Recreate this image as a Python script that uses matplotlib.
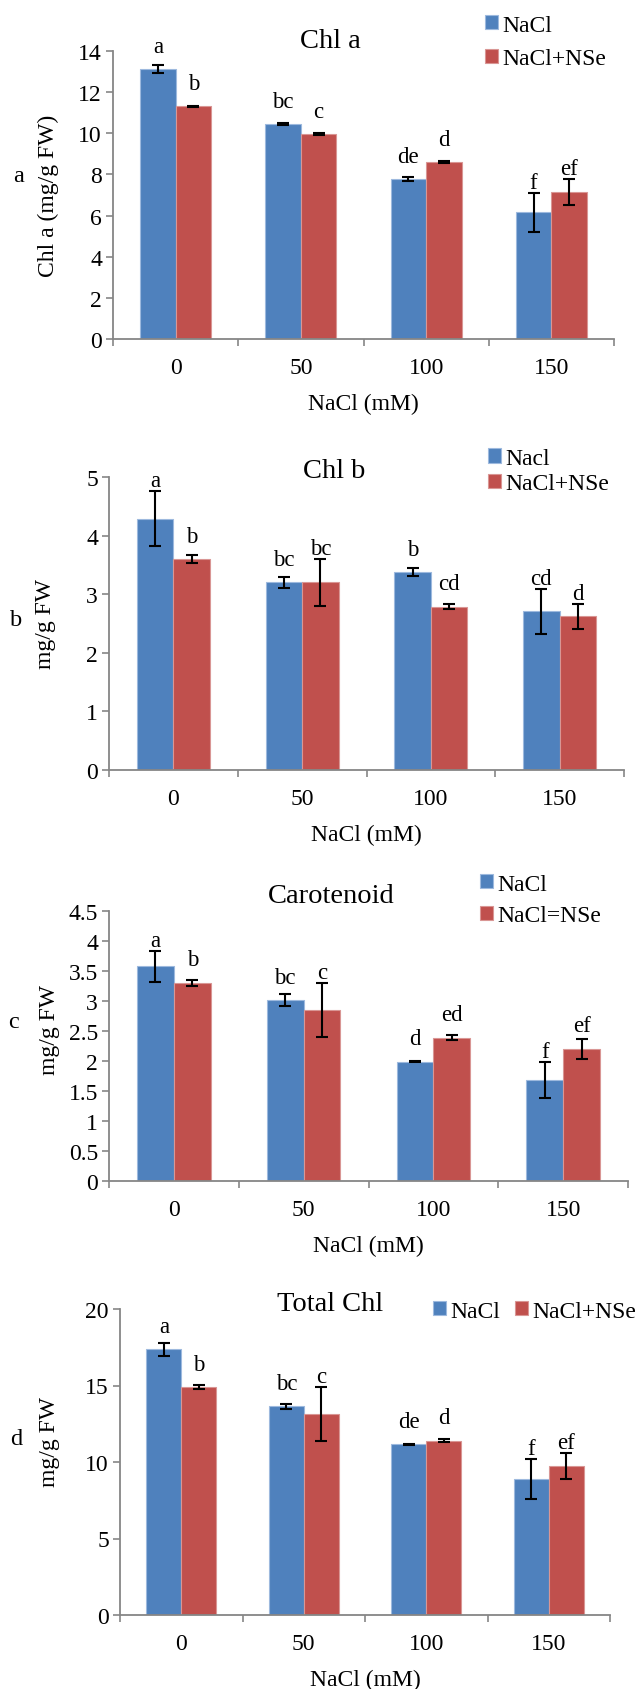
import numpy as np
import matplotlib
matplotlib.use('Agg')
import matplotlib.pyplot as plt
from matplotlib.ticker import FuncFormatter

plt.rcParams['font.family'] = ['Liberation Serif', 'DejaVu Serif']

# data
conc = ['0', '50', '100', '150']

chla_nacl = [13.12, 10.43, 7.77, 6.16]
chla_nacl_err = [0.18, 0.05, 0.10, 0.95]
chla_nse = [11.32, 9.96, 8.60, 7.14]
chla_nse_err = [0.03, 0.03, 0.03, 0.65]
chla_let_nacl = ['a', 'bc', 'de', 'f']
chla_let_nse = ['b', 'c', 'd', 'ef']

chlb_nacl = [4.29, 3.20, 3.375, 2.71]
chlb_nacl_err = [0.47, 0.10, 0.07, 0.385]
chlb_nse = [3.60, 3.20, 2.79, 2.62]
chlb_nse_err = [0.07, 0.40, 0.05, 0.21]
chlb_let_nacl = ['a', 'bc', 'b', 'cd']
chlb_let_nse = ['b', 'bc', 'cd', 'd']

car_nacl = [3.58, 3.01, 1.99, 1.68]
car_nacl_err = [0.255, 0.10, 0.01, 0.30]
car_nse = [3.30, 2.85, 2.39, 2.20]
car_nse_err = [0.05, 0.45, 0.045, 0.16]
car_let_nacl = ['a', 'bc', 'd', 'f']
car_let_nse = ['b', 'c', 'ed', 'ef']

tot_nacl = [17.36, 13.63, 11.15, 8.88]
tot_nacl_err = [0.40, 0.16, 0.03, 1.31]
tot_nse = [14.90, 13.13, 11.38, 9.75]
tot_nse_err = [0.12, 1.78, 0.10, 0.87]
tot_let_nacl = ['a', 'bc', 'de', 'f']
tot_let_nse = ['b', 'c', 'd', 'ef']

W, H = 636, 1690
BLUE = '#4F81BD'
RED = '#C0504D'
GREY = '#868686'

fig = plt.figure(figsize=(W / 100, H / 100), dpi=100)


def fx(x):
    return x / W


def fy(y):
    return 1 - y / H


def panel(rect, vals1, err1, vals2, err2, let1, let2, ymax, ystep,
          title, tpos, ylab, ypos, letter, lpos, labels, legpos, ncol=1, lspace=0.5):
    left, right, top, bottom = rect
    ax = fig.add_axes([fx(left), fy(bottom), fx(right - left), (bottom - top) / H])
    x = np.arange(len(conc))
    w = 0.284
    ax.bar(x - w / 2, vals1, w, color=BLUE, edgecolor='#9DB9DE', linewidth=0.8, label=labels[0])
    ax.bar(x + w / 2, vals2, w, color=RED, edgecolor='#D99694', linewidth=0.8, label=labels[1])
    ax.errorbar(x - w / 2, vals1, yerr=err1, fmt='none', ecolor='black', elinewidth=1.5,
                capsize=4, capthick=1.5)
    ax.errorbar(x + w / 2, vals2, yerr=err2, fmt='none', ecolor='black', elinewidth=1.5,
                capsize=4, capthick=1.5)

    # significance letters: above the bar, lifted over a tall error bar
    px_unit = (bottom - top) / ymax
    for xs, vals, errs, lets in [(x - w / 2, vals1, err1, let1), (x + w / 2, vals2, err2, let2)]:
        for xi, v, e, t in zip(xs, vals, errs, lets):
            lift = max(17.5, e * px_unit + 5) * 0.72
            ax.annotate(t, (xi, v), xytext=(0, lift), textcoords='offset points',
                        ha='center', va='baseline', fontsize=16.5)

    ax.set_xlim(-0.5, len(conc) - 0.5)
    ax.set_ylim(0, ymax)
    ax.set_yticks(np.arange(0, ymax + ystep / 2, ystep))
    ax.yaxis.set_major_formatter(FuncFormatter(lambda v, p: '{:g}'.format(round(v, 2))))
    ax.set_xticks(np.arange(-0.5, len(conc), 1))
    ax.set_xticklabels([])
    ax.set_xticks(x, minor=True)
    ax.set_xticklabels(conc, minor=True)
    ax.tick_params(axis='x', which='minor', length=0, pad=13, labelsize=17)
    ax.tick_params(axis='x', which='major', length=5, width=1.2, color=GREY, direction='out')
    ax.tick_params(axis='y', length=5, width=1.2, color=GREY, pad=3, labelsize=17)
    for s in ['top', 'right']:
        ax.spines[s].set_visible(False)
    for s in ['left', 'bottom']:
        ax.spines[s].set_color(GREY)
        ax.spines[s].set_linewidth(1.3)

    fig.text(fx(tpos[0]), fy(tpos[1]), title, ha='center', va='center', fontsize=20.5)
    fig.text(fx((left + right) / 2), fy(bottom + 64), 'NaCl (mM)', ha='center', va='center', fontsize=17)
    fig.text(fx(ypos[0]), fy(ypos[1]), ylab, ha='center', va='center', rotation=90, fontsize=17)
    fig.text(fx(lpos[0]), fy(lpos[1]), letter, ha='center', va='center', fontsize=17.5)
    ax.legend(loc='center left', bbox_to_anchor=(fx(legpos[0]), fy(legpos[1])),
              bbox_transform=fig.transFigure, frameon=False, fontsize=17, ncol=ncol,
              handlelength=0.55, handleheight=0.55, handletextpad=0.2, borderpad=0,
              borderaxespad=0, labelspacing=lspace, columnspacing=0.6)
    return ax


panel((113, 614, 52, 340), chla_nacl, chla_nacl_err, chla_nse, chla_nse_err,
      chla_let_nacl, chla_let_nse, 14, 2, 'Chl a', (330, 42),
      'Chl a (mg/g FW)', (48, 196), 'a', (19, 177), ['NaCl', 'NaCl+NSe'], (485, 43), lspace=0.55)

panel((109, 624, 478, 771), chlb_nacl, chlb_nacl_err, chlb_nse, chlb_nse_err,
      chlb_let_nacl, chlb_let_nse, 5, 1, 'Chl b', (334, 472),
      'mg/g FW', (45, 624), 'b', (16, 620), ['Nacl', 'NaCl+NSe'], (488, 472), lspace=0.18)

panel((109, 628, 912, 1182), car_nacl, car_nacl_err, car_nse, car_nse_err,
      car_let_nacl, car_let_nse, 4.5, 0.5, 'Carotenoid', (331, 897),
      'mg/g FW', (49, 1030), 'c', (14, 1022), ['NaCl', 'NaCl=NSe'], (480, 901), lspace=0.45)

panel((120, 610, 1310, 1616), tot_nacl, tot_nacl_err, tot_nse, tot_nse_err,
      tot_let_nacl, tot_let_nse, 20, 5, 'Total Chl', (330, 1305),
      'mg/g FW', (49, 1442), 'd', (16, 1440), ['NaCl', 'NaCl+NSe'], (433, 1312), ncol=2)

fig.savefig('out.png', dpi=100)
